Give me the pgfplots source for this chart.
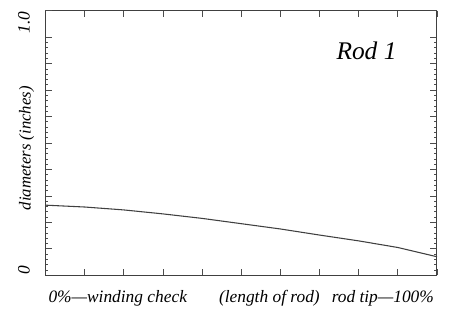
\documentclass[border=0pt]{standalone}
\usepackage{fontspec}
\setmainfont{Liberation Serif}
\usepackage{pgfplots}
\pgfplotsset{compat=1.18}
\begin{document}
\begin{tikzpicture}
\begin{axis}[
  name=ax,
  scale only axis,
  width=293pt, height=198pt,
  xmin=0, xmax=100, ymin=0, ymax=1,
  xtick={0,10,...,100}, xticklabels={},
  ytick={0,0.1,...,0.9}, yticklabels={0,,,,,,,,,},
  extra y ticks={1.0}, extra y tick labels={1.0},
  extra y tick style={yticklabel style={anchor=east, xshift=-1pt}},
  minor y tick num=4,
  tick align=inside,
  major tick length=5pt, minor tick length=2pt,
  axis line style={black!75, line width=0.8pt},
  tick style={black!70, line width=0.5pt},
  /pgf/number format/assume math mode=true,
  yticklabel style={rotate=90, font=\itshape\fontsize{13}{15}\selectfont, anchor=center, yshift=16pt, xshift=4pt},
  ylabel={\itshape diameters (inches)},
  ylabel style={font=\itshape\fontsize{12.5}{14}\selectfont, at={(rel axis cs:0,0.48)}, anchor=center, yshift=14pt},
  xlabel={\itshape 0\%---winding check\hspace{24pt}(length of rod)\hspace{9pt}rod tip---100\%},
  xlabel style={font=\itshape\fontsize{13}{15}\selectfont, at={(rel axis cs:0.5,0)}, anchor=center, yshift=-17pt},
  clip=false,
]
\addplot[black!75, line width=0.8pt] coordinates {
 (0,0.265) (10,0.258) (20,0.247) (30,0.232) (40,0.215) (50,0.195)
 (60,0.175) (70,0.152) (80,0.130) (90,0.105) (100,0.070)};
\node[font=\itshape\fontsize{19}{22}\selectfont] at (axis cs:82,0.85) {Rod 1};
\end{axis}
\pgfresetboundingbox
\path[use as bounding box] ([shift={(-34pt,-26pt)}]ax.south west) rectangle ([shift={(15pt,8pt)}]ax.north east);
\end{tikzpicture}
\end{document}
